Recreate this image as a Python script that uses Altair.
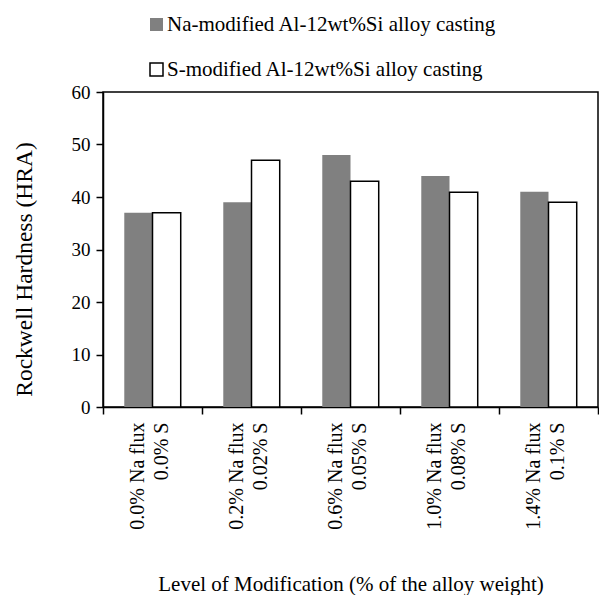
import altair as alt
import pandas as pd

na_flux = ["0.0% Na flux", "0.2% Na flux", "0.6% Na flux", "1.0% Na flux", "1.4% Na flux"]
s_level = ["0.0% S", "0.02% S", "0.05% S", "0.08% S", "0.1% S"]
series = ["Na-modified Al-12wt%Si alloy casting", "S-modified Al-12wt%Si alloy casting"]
na_values = [37, 39, 48, 44, 41]
s_values = [37, 47, 43, 40.9, 39]

groups = [a + "|" + b for a, b in zip(na_flux, s_level)]
rows = []
for g, v in zip(groups, na_values):
    rows.append({"level": g, "series": series[0], "hardness": v})
for g, v in zip(groups, s_values):
    rows.append({"level": g, "series": series[1], "hardness": v})
df = pd.DataFrame(rows)

FONT = "Times New Roman, Liberation Serif, serif"

legend_opts = dict(
    title=None,
    orient="none",
    direction="vertical",
    legendX=43,
    legendY=-78,
    symbolType="square",
    symbolSize=169,
    symbolStrokeWidth=1.5,
    labelFont=FONT,
    labelFontSize=21,
    labelColor="black",
    labelLimit=0,
    labelOffset=0,
    rowPadding=23,
    padding=0,
)

chart = alt.Chart(df).mark_bar(strokeWidth=1.5).encode(
    x=alt.X(
        "level:N",
        sort=groups,
        scale=alt.Scale(paddingInner=0, paddingOuter=0),
        axis=alt.Axis(
            title="Level of Modification (% of the alloy weight)",
            labelExpr="split(datum.label, '|')",
            labelAngle=270,
            labelFontSize=20,
            labelLineHeight=24.5,
            labelOffset=-15.5,
            labelPadding=8,
            tickBand="extent",
            tickSize=7,
            titleFontSize=21,
            titlePadding=44,
        ),
    ),
    xOffset=alt.XOffset("series:N", sort=series, scale=alt.Scale(paddingOuter=0.754, paddingInner=0)),
    y=alt.Y(
        "hardness:Q",
        scale=alt.Scale(domain=[0, 60], nice=False),
        axis=alt.Axis(
            title="Rockwell Hardness (HRA)",
            values=[0, 10, 20, 30, 40, 50, 60],
            labelFontSize=19,
            labelPadding=6,
            tickSize=7,
            titleFontSize=23.5,
            titleY=177,
            titlePadding=35,
        ),
    ),
    fill=alt.Fill(
        "series:N",
        sort=series,
        scale=alt.Scale(domain=series, range=["#808080", "#ffffff"]),
        legend=alt.Legend(**legend_opts),
    ),
    stroke=alt.Stroke(
        "series:N",
        sort=series,
        scale=alt.Scale(domain=series, range=["rgba(0,0,0,0)", "#000000"]),
        legend=alt.Legend(**legend_opts),
    ),
).properties(
    width=495,
    height=315,
    padding={"left": 4, "top": 6, "right": 0, "bottom": 0},
    background="white",
).configure(
    font=FONT
).configure_view(
    stroke="black", strokeWidth=1.5
).configure_axis(
    grid=False,
    domainColor="black",
    domainWidth=1.5,
    tickColor="black",
    tickWidth=1.5,
    labelColor="black",
    titleColor="black",
    labelFont=FONT,
    titleFont=FONT,
    titleFontWeight="normal",
)

chart.save("out.html", embed_options={"renderer": "svg", "actions": False})
